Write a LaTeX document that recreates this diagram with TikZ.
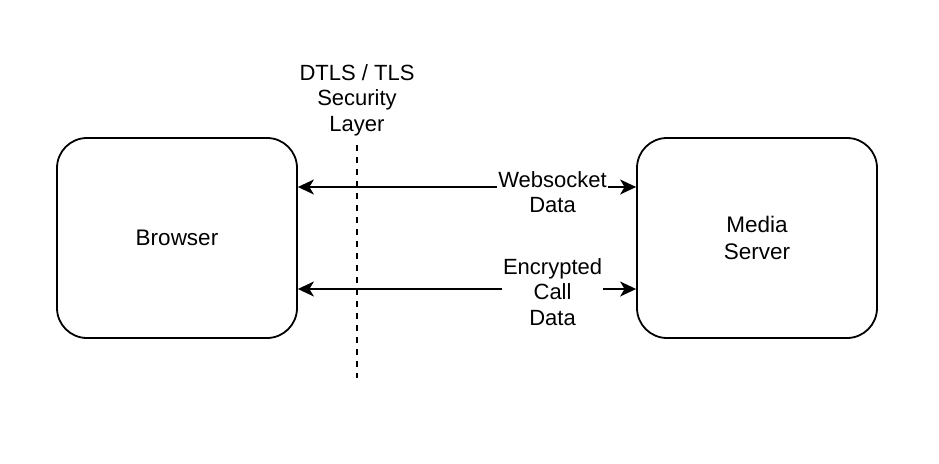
\documentclass[tikz,border=0pt]{standalone}
\usepackage{fontspec}
\setmainfont{Liberation Sans}
\usetikzlibrary{positioning, arrows.meta}

\begin{document}
\begin{tikzpicture}[
                x=1pt, y=-1pt,
                box/.style={rectangle, draw=black, line width=1.8pt, rounded corners=30pt, minimum width=240pt, minimum height=200pt, align=center, font=\fontsize{22.5}{27}\selectfont},
                arrow/.style={{Stealth[length=16pt, width=15pt, inset=4.5pt]}-{Stealth[length=16pt, width=15pt, inset=4.5pt]}, line width=1.8pt},
                lbl/.style={align=center, fill=white, inner sep=1pt, font=\fontsize{22}{25.5}\selectfont},
                border/.style={dash pattern=on 6pt off 6pt, line width=1.8pt}
            ]
            \useasboundingbox (0,0) rectangle (939,463);
            \node[box] (browser) at (177,238) {Browser};
            \node[box] (server) at (757,238) {Media\\Server};

            \node[lbl] (layer) at (357,100) {DTLS / TLS\\Security\\Layer};
            \coordinate (top) at (357,145);
            \coordinate (bottom) at (357,378);
            \draw[border] (top) -- (bottom);

            \draw[arrow] ([yshift=51pt]browser.east) -- node[lbl, pos=0.753, yshift=-5pt] (ws) {Websocket\\Data} ([yshift=51pt]server.west);
            \draw[arrow] ([yshift=-51pt]browser.east) -- node[lbl, pos=0.753, yshift=-3pt] (call) {Encrypted\\Call\\Data} ([yshift=-51pt]server.west);
        \end{tikzpicture}
\end{document}
